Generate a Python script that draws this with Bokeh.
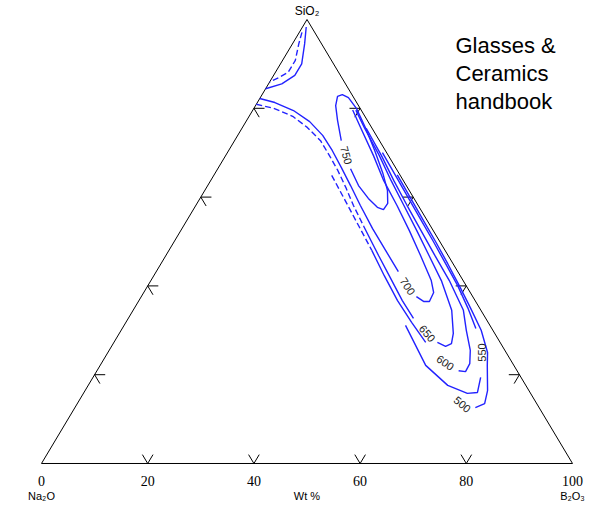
from bokeh.plotting import figure
from bokeh.models import Range1d, Label
from bokeh.embed import file_html
from bokeh.resources import INLINE

# --- ternary data (wt %): each contour given as SiO2 / B2O3 pairs, Na2O is the remainder ---
c750_sio2 = [66.4, 62.6, 59.7, 57.7, 57.2, 58.6, 61.5, 65.5, 70.5, 75.5, 80.0, 82.4, 83.1, 82.7, 80.6, 77.3, 72.7]
c750_b2o3 = [25.0, 28.4, 31.7, 34.4, 35.8, 35.9, 34.4, 31.5, 27.5, 23.3, 19.3, 16.6, 15.1, 14.4, 15.1, 17.1, 20.1]

c700a_sio2 = [82.2, 81.3, 79.5, 77.0, 73.9, 70.5, 66.7, 62.6, 58.1, 52.9, 48.0, 43.2]
c700a_b2o3 = [0.0, 3.3, 7.7, 12.0, 16.0, 19.5, 23.1, 26.9, 31.0, 35.9, 40.8, 45.6]
c700b_sio2 = [37.6, 36.5, 36.5, 38.5, 41.2, 46.8, 52.5, 58.1, 63.7, 69.4, 75.5, 79.6]
c700b_b2o3 = [51.8, 53.7, 54.8, 54.6, 52.8, 48.0, 43.0, 37.9, 32.6, 27.8, 22.4, 18.8]

c650d_sio2 = [80.9, 80.0, 78.2, 75.7, 72.7, 69.4, 66.0, 62.2, 58.1, 53.5]
c650d_b2o3 = [0.0, 3.7, 8.2, 12.2, 16.2, 19.5, 22.8, 26.2, 29.7, 33.9]
c650a_sio2 = [53.5, 46.8, 41.7, 36.7, 32.7]
c650a_b2o3 = [33.9, 40.1, 44.9, 49.6, 53.7]
c650b_sio2 = [27.3, 26.4, 27.0, 29.3, 34.5, 41.2, 46.8, 52.5, 58.1, 63.7, 69.4, 75.5, 79.6]
c650b_b2o3 = [60.9, 62.9, 63.7, 62.9, 60.0, 54.7, 49.6, 44.4, 39.2, 34.0, 28.9, 23.1, 19.4]

c600d_sio2 = [64.9, 59.2, 53.6, 48.0]
c600d_b2o3 = [22.2, 27.6, 32.9, 38.2]
c600a_sio2 = [48.0, 42.3, 36.7, 31.8, 27.3]
c600a_b2o3 = [38.2, 43.4, 48.7, 53.8, 58.7]
c600b_sio2 = [20.9, 20.7, 22.5, 25.5, 30.0, 34.5, 41.2, 46.8, 52.5, 58.1, 63.7, 69.4, 75.5]
c600b_b2o3 = [68.1, 69.5, 69.4, 68.0, 65.0, 62.2, 56.2, 50.7, 45.2, 39.8, 34.5, 29.3, 23.4]

c550a_sio2 = [31.1, 22.1, 17.6, 15.8, 16.0, 19.4]
c550a_b2o3 = [53.0, 61.3, 67.7, 72.3, 74.1, 73.0]
c550b_sio2 = [30.4, 35.0, 40.0, 45.0, 50.0, 55.0, 60.0, 65.0, 70.0]
c550b_b2o3 = [66.6, 62.8, 58.4, 53.6, 48.8, 43.9, 39.0, 34.1, 29.2]

c500_sio2 = [12.6, 13.5, 16.4, 22.1, 25.0, 30.0, 35.0, 40.0, 45.0, 50.0, 55.0, 60.0, 65.0]
c500_b2o3 = [75.4, 76.7, 75.8, 72.9, 71.5, 67.8, 63.3, 58.7, 54.0, 49.2, 44.3, 39.4, 34.5]

hook1_sio2 = [97.1, 94.5, 90.8, 88.1, 86.9, 85.9]
hook1_b2o3 = [0.5, 1.2, 2.4, 2.4, 1.2, 0.0]
hook2_sio2 = [98.3, 94.5, 90.0, 87.4, 85.5, 84.4]
hook2_b2o3 = [0.7, 2.3, 4.0, 4.0, 2.5, 0.0]

# contour labels: text, SiO2, B2O3, rotation (deg)
label_text = ["750", "700", "650", "600", "550", "500"]
label_sio2 = [69.4, 39.9, 29.3, 22.7, 25.0, 13.3]
label_b2o3 = [22.7, 49.0, 58.0, 64.7, 70.4, 72.6]
label_angle = [-75, -57, -50, -35, 90, -40]

axis_ticks = [20, 40, 60, 80]
axis_labels = ["0", "20", "40", "60", "80", "100"]
axis_label_pos = [0, 20, 40, 60, 80, 100]

LINE = "#2222ff"


def tern(sio2, b2o3):
    """Ternary composition -> cartesian (B2O3 runs left to right, SiO2 upward)."""
    xs = [b + s / 2.0 for s, b in zip(sio2, b2o3)]
    ys = list(sio2)
    return xs, ys


p = figure(width=605, height=507, output_backend="svg", toolbar_location=None,
           x_range=Range1d(-7.72, 106.21), y_range=Range1d(-9.91, 104.28),
           x_axis_type=None, y_axis_type=None, min_border=0)
p.grid.visible = False
p.outline_line_color = None
p.background_fill_color = "white"
p.border_fill_color = "white"

# triangle frame
fx, fy = tern([0, 0, 100, 0], [0, 100, 0, 0])
p.line(fx, fy, line_color="black", line_width=1)

# tick marks (two short strokes along the grid directions at each tick)
L = 2.0
x0, y0, x1, y1 = [], [], [], []
for t in axis_ticks:
    ax, ay = tern([0], [t])
    for s2, b2 in ((L, t), (L, t - L)):
        bx, by = tern([s2], [b2])
        x0 += ax; y0 += ay; x1 += bx; y1 += by
    ax, ay = tern([t], [0])
    for s2, b2 in ((t, L), (t - L, L)):
        bx, by = tern([s2], [b2])
        x0 += ax; y0 += ay; x1 += bx; y1 += by
    ax, ay = tern([t], [100 - t])
    for s2, b2 in ((t, 100 - t - L), (t - L, 100 - t)):
        bx, by = tern([s2], [b2])
        x0 += ax; y0 += ay; x1 += bx; y1 += by
p.segment(x0, y0, x1, y1, line_color="black", line_width=1)

# contours
solid = [(c750_sio2, c750_b2o3), (c700a_sio2, c700a_b2o3), (c700b_sio2, c700b_b2o3),
         (c650a_sio2, c650a_b2o3), (c650b_sio2, c650b_b2o3),
         (c600a_sio2, c600a_b2o3), (c600b_sio2, c600b_b2o3),
         (c550a_sio2, c550a_b2o3), (c550b_sio2, c550b_b2o3),
         (c500_sio2, c500_b2o3), (hook2_sio2, hook2_b2o3)]
dashed = [(c650d_sio2, c650d_b2o3), (c600d_sio2, c600d_b2o3), (hook1_sio2, hook1_b2o3)]
for s, b in solid:
    xs, ys = tern(s, b)
    p.line(xs, ys, line_color=LINE, line_width=1.4)
for s, b in dashed:
    xs, ys = tern(s, b)
    p.line(xs, ys, line_color=LINE, line_width=1.4, line_dash="6 3")

lx, ly = tern(label_sio2, label_b2o3)
for t, x, y, a in zip(label_text, lx, ly, label_angle):
    p.add_layout(Label(x=x, y=y, text=t, angle=a, angle_units="deg",
                       text_align="center", text_baseline="middle",
                       text_font="Liberation Sans", text_font_size="11px",
                       text_color="#222222"))

# axis numbers along the B2O3 edge
for t, pos in zip(axis_labels, axis_label_pos):
    p.add_layout(Label(x=pos, y=0, text=t, y_offset=-18, text_align="center",
                       text_baseline="middle", text_font="Liberation Serif",
                       text_font_size="14px", text_color="black"))

corner = [("Na\u2082O", 0, -33), ("Wt %", 50, -33), ("B\u2082O\u2083", 100, -33)]
for t, bx, off in corner:
    xx, yy = tern([0], [bx])
    p.add_layout(Label(x=xx[0], y=yy[0], text=t, y_offset=off, text_align="center",
                       text_baseline="middle", text_font="Liberation Sans",
                       text_font_size="11px", text_color="black"))
ax_, ay_ = tern([100], [0])
p.add_layout(Label(x=ax_[0], y=ay_[0], text="SiO\u2082", y_offset=9, text_align="center",
                   text_baseline="middle", text_font="Liberation Sans",
                   text_font_size="12px", text_color="black"))

# caption block (screen units measured from the bottom edge)
for i, t in enumerate(["Glasses &", "Ceramics", "handbook"]):
    p.add_layout(Label(x=455, y=507 - (45 + 28 * i), x_units="screen", y_units="screen",
                       text=t, text_align="left", text_baseline="middle",
                       text_font="Liberation Sans", text_font_size="22px",
                       text_color="black"))

open("out.html", "w").write(file_html(p, INLINE))
